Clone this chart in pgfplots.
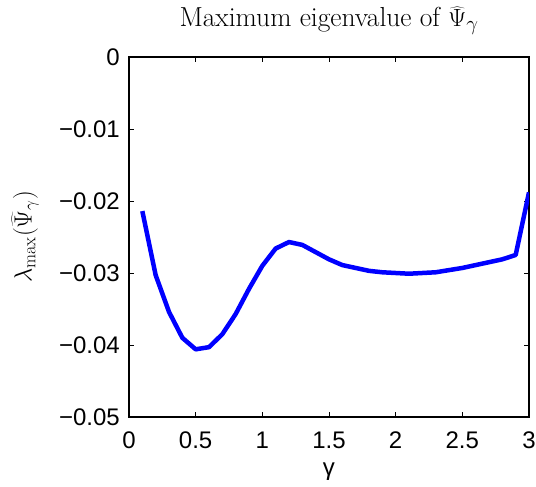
\documentclass[border=0pt]{standalone}
\usepackage{fontspec}
\usepackage{pgfplots}
\pgfplotsset{compat=1.18}
\newfontfamily\hv{Liberation Sans}

\begin{document}
\begin{tikzpicture}
\path[use as bounding box] (-129pt,-70pt) rectangle (407pt,417pt);
\begin{axis}[
    scale only axis, width=400pt, height=360pt,
    at={(0,0)}, anchor=south west,
    xmin=0, xmax=3, ymin=-0.05, ymax=0,
    scaled y ticks=false, scaled x ticks=false,
    xtick={0,0.5,1,1.5,2,2.5,3},
    xticklabels={0,0.5,1,1.5,2,2.5,3},
    ytick={-0.05,-0.04,-0.03,-0.02,-0.01,0},
    yticklabels={−0.05,−0.04,−0.03,−0.02,−0.01,0},
    tick align=inside, major tick length=5pt,
    axis line style={line width=1.2pt},
    every tick/.style={black, line width=0.9pt},
    ticklabel style={font=\hv\fontsize{24}{26}\selectfont, inner sep=0pt},
    xticklabel style={anchor=base, yshift=-32pt},
    yticklabel style={anchor=east, xshift=-9pt},
    title={Maximum eigenvalue of $\widehat{\Psi}_\gamma$},
    title style={font=\fontsize{27.5}{32}\selectfont, at={(axis description cs:0.5,1.0667)}, anchor=base},
    xlabel={\hv γ},
    every axis x label/.style={at={(axis description cs:0.5,-0.1639)}, anchor=base, font=\fontsize{24}{26}\selectfont},
    ylabel={$\lambda_{\max}(\widehat{\Psi}_\gamma)$},
    every axis y label/.style={at={(axis description cs:-0.26,0.5)}, rotate=90, anchor=center, font=\fontsize{26}{30}\selectfont},
]
\addplot[color=blue, line width=4.5pt, line join=round] coordinates {
    (0.1,-0.0214) (0.2,-0.0303) (0.3,-0.0354) (0.4,-0.0390) (0.5,-0.0406)
    (0.6,-0.0403) (0.7,-0.0385) (0.8,-0.0357) (0.9,-0.0322) (1.0,-0.0290)
    (1.1,-0.0266) (1.2,-0.0257) (1.3,-0.0261) (1.4,-0.0271) (1.5,-0.0281)
    (1.6,-0.0289) (1.7,-0.0293) (1.8,-0.0297) (1.9,-0.0299) (2.0,-0.0300)
    (2.1,-0.0301) (2.2,-0.0300) (2.3,-0.0299) (2.4,-0.0296) (2.5,-0.0293)
    (2.6,-0.0289) (2.7,-0.0285) (2.8,-0.0281) (2.9,-0.0275) (3.0,-0.0188)
};
\end{axis}
\end{tikzpicture}
\end{document}
